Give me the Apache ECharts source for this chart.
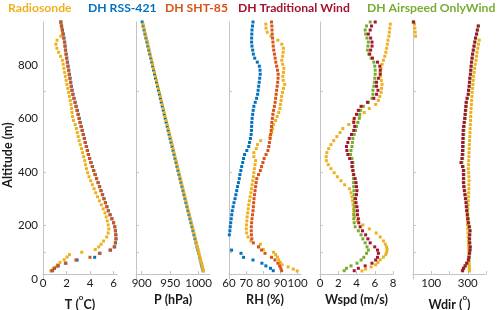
<!DOCTYPE html>
<html><head><meta charset="utf-8">
<script src="https://cdn.jsdelivr.net/npm/echarts@6/dist/echarts.min.js"></script>
<style>html,body{margin:0;padding:0;background:#fff}#c{width:500px;height:310px}</style>
</head><body><div id="c"></div>
<script>
// ---- altitudes (m) ----
const altDrone = [31,40,49,59,71,81,96,108,120,135,150,165,180,195,210,225,240,255,270,285,300,315,330,345,360,375,390,405,420,435,450,465,480,495,510,525,540,555,570,585,600,615,630,645,660,675,690,705,720,735,750,765,780,795,810,825,840,855,870,885,900,915,930,945,960];
const altSonde = [30,37,45,53,62,72,82,91,100,110,120,130,142,157,172,187,202,217,232,247,262,277,292,307,322,337,352,367,382,397,412,427,442,457,472,487,502,517,532,547,562,577,592,607,622,637,652,667,682,697,712,727,742,757,772,787,802,817,832,847,862,877,892,907,922,937,952,965];

// ---- temperature (°C) ----
const tempSHT = [0.75,0.95,1.25,1.9,2.8,4.0,4.8,5.7,6.05,6.15,6.2,6.2,6.15,6.1,6.0,5.85,5.7,5.55,5.42,5.3,5.17,5.05,4.92,4.8,4.68,4.55,4.42,4.3,4.18,4.06,3.95,3.85,3.76,3.67,3.58,3.5,3.41,3.32,3.23,3.14,3.06,2.98,2.88,2.8,2.71,2.62,2.53,2.45,2.39,2.34,2.28,2.22,2.17,2.11,2.06,2.0,1.95,1.9,1.86,1.82,1.76,1.7,1.63,1.56,1.5];
const tempRSS = [0.8,0.98,1.3,1.95,2.9,4.4,4.85,5.75,6.1,6.17,6.22,6.2,6.17,6.12,6.02,5.87,5.72,5.57,5.45,5.32,5.2,5.08,4.95,4.83,4.7,4.57,4.45,4.33,4.21,4.1,3.98,3.88,3.79,3.7,3.61,3.53,3.44,3.35,3.26,3.17,3.09,3.0,2.93,2.83,2.74,2.65,2.56,2.48,2.42,2.37,2.31,2.25,2.2,2.14,2.09,2.03,1.98,1.93,1.89,1.85,1.79,1.73,1.66,1.59,1.53];
const tempSonde = [0.67,0.85,1.1,1.25,1.45,1.8,2.05,2.25,3.3,4.45,4.75,4.95,5.15,5.42,5.55,5.6,5.55,5.47,5.38,5.28,5.13,4.97,4.8,4.64,4.49,4.35,4.2,4.06,3.92,3.8,3.7,3.62,3.55,3.46,3.37,3.28,3.18,3.08,3.0,2.92,2.84,2.74,2.6,2.51,2.47,2.43,2.38,2.32,2.25,2.18,2.11,2.04,1.97,1.9,1.84,1.78,1.72,1.65,1.5,1.33,1.18,1.1,1.2,1.52,1.66,1.6,1.55,1.5];

// ---- pressure (hPa) ----
const presRSS = [1007.7,1006.6,1005.5,1004.4,1002.9,1001.8,1000.0,998.5,997.1,995.4,993.6,991.8,990.0,988.3,986.5,984.7,983.0,981.2,979.5,977.7,976.0,974.2,972.5,970.7,969.0,967.2,965.5,963.7,962.0,960.3,958.5,956.8,955.1,953.4,951.6,949.9,948.2,946.5,944.8,943.0,941.3,939.6,937.9,936.2,934.5,932.8,931.1,929.4,927.7,926.0,924.3,922.6,920.9,919.2,917.6,915.9,914.2,912.5,910.8,909.2,907.5,905.8,904.2,902.5,900.8];
const presSonde = [1008.4,1007.6,1006.6,1005.7,1004.6,1003.4,1002.2,1001.1,1000.1,998.9,997.7,996.5,995.1,993.4,991.6,989.8,988.1,986.3,984.5,982.7,981.0,979.2,977.5,975.7,974.0,972.2,970.5,968.7,967.0,965.2,963.5,961.8,960.1,958.3,956.6,954.9,953.2,951.5,949.7,948.0,946.3,944.6,942.8,941.1,939.4,937.7,936.0,934.3,932.6,930.9,929.2,927.5,925.8,924.1,922.4,920.7,919.0,917.3,915.6,913.9,912.3,910.6,908.9,907.2,905.5,903.9,902.2,900.7];

// ---- relative humidity (%) ----
const rhRSS = [85.8,84.2,81.5,79.2,74.0,68.5,67.0,61.5,59.4,59.6,59.9,60.2,60.5,60.7,61.0,61.3,61.6,61.9,62.4,62.9,63.5,64.0,64.5,65.0,65.5,66.0,66.4,66.9,67.4,68.0,68.5,69.1,70.4,71.5,72.0,72.5,72.9,73.1,73.2,73.3,73.5,73.8,74.1,74.5,75.3,76.1,76.7,77.0,77.3,77.6,77.9,78.2,78.1,77.7,76.5,75.0,74.2,73.8,73.4,73.2,73.2,73.3,73.4,73.7,74.0];
const rhSHT = [90.7,90.2,89.5,88.5,86.8,84.8,81.0,79.0,77.2,74.2,73.3,73.1,73.0,73.0,73.2,73.4,73.7,74.0,74.2,74.4,74.6,74.9,75.2,75.5,75.8,76.2,77.2,78.3,79.0,79.8,80.5,81.6,82.7,83.2,83.6,84.0,84.3,84.6,84.8,85.0,85.3,85.6,86.0,86.5,86.9,87.2,87.5,87.8,88.1,88.4,88.6,88.7,88.3,87.8,87.3,86.9,86.5,86.1,85.8,85.6,85.4,85.2,85.1,85.0,84.8];
const rhSonde = [99.8,97.5,94.5,91.0,90.0,89.0,88.2,87.2,86.0,80.0,77.3,78.3,72.8,71.1,70.3,70.1,70.2,70.4,70.6,70.9,71.2,71.5,71.9,72.3,72.8,73.1,73.5,73.9,74.2,74.5,74.8,75.2,75.5,74.5,74.5,75.9,76.6,78.5,83.9,84.9,85.4,86.0,87.2,88.1,89.0,89.7,90.0,90.4,90.7,91.2,91.8,92.5,91.6,91.4,91.8,92.0,91.3,90.8,91.3,91.6,91.7,90.8,88.5,84.5,82.3,81.6,81.5,81.5];

// ---- wind speed (m/s) ----
const wsTrad = [3.75,4.2,4.95,5.7,6.1,6.3,6.4,6.3,6.0,5.5,5.25,5.0,4.65,4.4,4.25,4.2,4.1,4.1,4.05,3.95,3.9,4.0,4.05,4.0,3.95,3.85,3.7,3.6,3.5,3.5,3.25,3.05,2.95,2.9,3.05,3.2,3.45,3.7,3.8,3.7,3.75,4.0,4.2,4.5,5.2,5.9,6.2,6.35,6.2,6.2,6.4,6.6,6.6,6.55,6.3,5.75,5.45,5.55,5.7,5.7,5.55,5.3,5.5,5.65,6.05];
const wsAir = [2.65,2.9,3.4,4.05,4.5,4.8,5.1,5.3,5.15,4.95,4.7,4.5,4.2,3.85,3.75,3.7,3.7,3.75,3.8,3.8,3.78,3.75,3.72,3.7,3.68,3.66,3.65,3.62,3.6,3.6,3.5,3.35,3.4,3.5,3.55,3.6,3.75,3.9,4.0,4.15,4.3,4.35,4.45,4.75,5.3,5.7,5.8,5.8,5.9,5.95,6.0,6.05,6.05,6.0,5.9,5.6,5.35,5.2,5.25,5.3,5.15,5.0,4.95,5.1,5.5];
const wsSonde = [4.6,5.0,5.6,6.1,6.35,6.6,6.95,7.2,7.3,7.35,7.3,7.15,6.95,6.6,6.15,5.4,4.7,4.1,3.8,3.72,3.67,3.63,3.57,3.5,3.4,3.22,2.7,2.3,1.9,1.55,1.2,0.9,0.7,0.68,0.75,0.95,1.2,1.5,1.85,2.2,2.5,3.15,3.7,4.35,4.85,5.4,6.1,6.4,6.55,6.7,6.75,6.8,6.72,6.62,6.6,6.7,6.8,6.95,7.1,7.22,7.3,7.38,7.45,7.55,7.6,7.65,7.7,7.7];

// ---- wind direction (°) ----
const wdTrad = [272,276,285,294,303,306,309,312,313,310,309,310,312,308,303,300,297,294,292,290,287,284,281,278,276,276,276,276,271,263,268,270,271,272,272,273,274,275,277,280,283,285,287,289,291,296,302,304,307,309,311,314,316,318,320,323,326,330,334,338,342,348,352,357,2];
const wdAir = [270,279,287,296,305,308,311,313,314,312,311,312,313,310,306,303,300,297,295,293,290,287,284,281,279,279,279,279,275,268,272,274,275,276,276,277,278,279,281,283,286,288,290,292,294,298,304,306,309,311,313,316,318,320,322,325,328,332,336,340,344,350,354,359,4];
const wdSonde = [309,309,308,308,307,307,307,307,306,306,305,304,303,302,301,300,299,298,298,299,300,302,303,304,305,306,306,307,306,305,303,304,305,306,307,308,309,310,311,312,313,314,315,316,317,318,320,321,323,324,326,328,330,332,335,338,341,345,348,351,355,359,363,14,12,10,8,6];

// ---- axis ticks / labels ----
const altTicks = [100,200,400,700];
const altLabels = [0,200,400,600,800];
const tTicks = [0,2,4,6];
const pTicks = [900,950,1000];
const rhTicks = [60,70,80,90,100];
const wsTicks = [0,2,4,6,8];
const wdTicks = [100,200,300,400];
const wdLabels = [100,300];

const seriesNames = ['Radiosonde','DH RSS-421','DH SHT-85','DH Traditional Wind','DH Airspeed OnlyWind'];
const COL = {'Radiosonde':'#EDB120','DH RSS-421':'#0072BD','DH SHT-85':'#D95319','DH Traditional Wind':'#A2142F','DH Airspeed OnlyWind':'#77AC30'};
const legendLeft = [8, 88, 165, 238, 367];

const FONT = 'Lato';
const AXC = '#c4c4c4';
const TXT = '#1a1a1a';

function pairs(xs, ys){ const n = Math.min(xs.length, ys.length); const o = []; for (let i=0;i<n;i++) o.push([xs[i], ys[i]]); return o; }

const gridDefs = [[43,74],[136,74],[229,72],[320,73],[413,73]];
const grid = gridDefs.map(g => ({left:g[0], width:g[1], top:22, bottom:31, containLabel:false, outerBoundsMode:'none'}));

const nameStyle = {fontFamily:FONT, fontWeight:'bold', fontSize:12.5, color:TXT,
  rich:{
    m:{fontFamily:FONT, fontWeight:'bold', fontSize:12.5, color:TXT, lineHeight:18, verticalAlign:'bottom'},
    s:{fontFamily:FONT, fontWeight:'bold', fontSize:8, color:TXT, lineHeight:10, verticalAlign:'top'}}};

function xAx(i, min, max, ticks, labels, name){
  return {type:'value', gridIndex:i, min:min, max:max, offset:-5,
    axisLine:{show:true, onZero:false, lineStyle:{color:AXC, width:1}},
    axisTick:{show:true, inside:true, length:3, customValues:ticks, lineStyle:{color:AXC}},
    axisLabel:{customValues:labels, color:TXT, fontSize:11.5, fontFamily:FONT, margin:3, formatter:v => String(v)},
    splitLine:{show:false},
    name:name, nameLocation:'middle', nameGap:10, nameTextStyle:nameStyle};
}
function yAx(i){
  const a = {type:'value', gridIndex:i, min:0, max:960,
    axisLine:{show:true, onZero:false, lineStyle:{color:AXC, width:1}},
    axisTick:{show:true, inside:true, length:3, customValues:altTicks, lineStyle:{color:AXC}},
    axisLabel:{show:i===0, customValues:altLabels, color:TXT, fontSize:11.5, fontFamily:FONT, margin:5, formatter:v => String(v)},
    splitLine:{show:false}};
  if (i===0){ a.name='Altitude (m)'; a.nameLocation='middle'; a.nameGap=25;
    a.nameTextStyle={fontFamily:FONT, fontWeight:'bold', fontSize:12.5, color:TXT, padding:[0,9,0,0]}; }
  return a;
}

const xAxis = [
  xAx(0, 0, 6.3, tTicks, tTicks, '{m|T (}{s|o}{m|C)}'),
  xAx(1, 890, 1020, pTicks, pTicks, '{m|P (hPa)}'),
  xAx(2, 60, 102, rhTicks, rhTicks, '{m|RH (%)}'),
  xAx(3, 0, 8, wsTicks, wsTicks, '{m|Wspd (m/s)}'),
  xAx(4, 0, 400, wdTicks, wdLabels, '{m|Wdir (}{s|o}{m|)}')
];
const yAxis = [0,1,2,3,4].map(yAx);

function sc(name, gi, xs, ys){
  return {type:'scatter', name:name, xAxisIndex:gi, yAxisIndex:gi, symbol:'rect', symbolSize:3,
    itemStyle:{color:COL[name], opacity:1}, silent:true, data:pairs(xs, ys)};
}
const series = [
  sc('Radiosonde',0,tempSonde,altSonde),
  sc('DH RSS-421',0,tempRSS,altDrone),
  sc('DH SHT-85',0,tempSHT,altDrone),
  sc('DH RSS-421',1,presRSS,altDrone),
  sc('Radiosonde',1,presSonde,altSonde),
  sc('Radiosonde',2,rhSonde,altSonde),
  sc('DH RSS-421',2,rhRSS,altDrone),
  sc('DH SHT-85',2,rhSHT,altDrone),
  sc('Radiosonde',3,wsSonde,altSonde),
  sc('DH Airspeed OnlyWind',3,wsAir,altDrone),
  sc('DH Traditional Wind',3,wsTrad,altDrone),
  sc('Radiosonde',4,wdSonde,altSonde),
  sc('DH Airspeed OnlyWind',4,wdAir,altDrone),
  sc('DH Traditional Wind',4,wdTrad,altDrone)
];

const legend = seriesNames.map((n, k) => ({
  left: legendLeft[k] - 5, top: 2, padding: 0, itemWidth: 0, itemHeight: 0, icon: 'rect', selectedMode: false,
  textStyle: {fontFamily: FONT, fontWeight: 'bold', fontSize: 12.2, color: COL[n]},
  data: [{name: n, textStyle: {color: COL[n]}}]
}));

const chart = echarts.init(document.getElementById('c'), null, {renderer:'canvas'});
chart.setOption({
  animation:false,
  backgroundColor:'#ffffff',
  legend:legend,
  grid:grid, xAxis:xAxis, yAxis:yAxis, series:series
});
</script></body></html>
